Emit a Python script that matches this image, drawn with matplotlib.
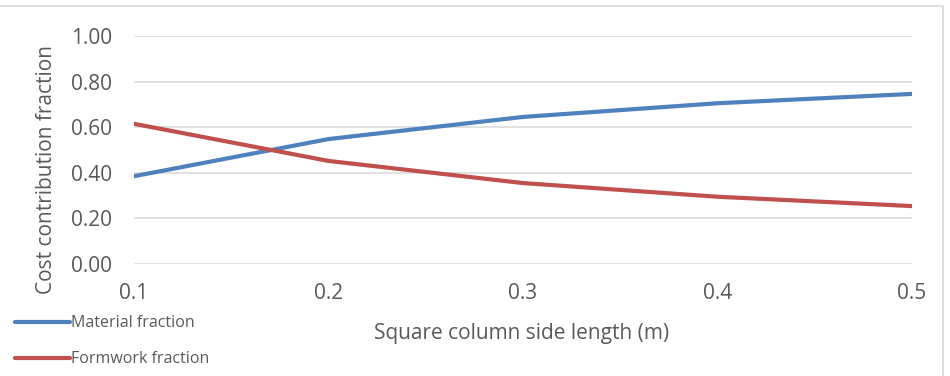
import matplotlib
matplotlib.use("Agg")
import matplotlib.pyplot as plt
from matplotlib.patches import Rectangle

plt.rcParams['font.family'] = ['Open Sans', 'DejaVu Sans']

side_length = [0.1, 0.2, 0.3, 0.4, 0.5]
material_fraction = [0.385, 0.548, 0.645, 0.705, 0.746]
formwork_fraction = [0.615, 0.452, 0.355, 0.295, 0.254]
yticks = [0.0, 0.2, 0.4, 0.6, 0.8, 1.0]
xticks = [0.1, 0.2, 0.3, 0.4, 0.5]

W, H = 950, 376
fig = plt.figure(figsize=(W/100, H/100), dpi=100)
ax = fig.add_axes([134/W, 1-264/H, (912-134)/W, (264-36)/H])

l1, = ax.plot(side_length, material_fraction, color='#4f81bd', lw=3.0,
              solid_capstyle='round', label='Material fraction', zorder=3)
l2, = ax.plot(side_length, formwork_fraction, color='#c0504d', lw=3.0,
              solid_capstyle='round', label='Formwork fraction', zorder=3)

ax.set_xlim(0.1, 0.5)
ax.set_ylim(0, 1.0)
ax.set_yticks(yticks)
ax.set_yticklabels([f"{v:.2f}" for v in yticks])
ax.set_xticks(xticks)
ax.set_xticklabels([f"{v:g}" for v in xticks])
ax.grid(axis='y', color='#d9d9d9', lw=1.1)
ax.set_axisbelow(True)
for s in ax.spines.values():
    s.set_visible(False)
ax.tick_params(axis='both', length=0, colors='#595959', labelsize=15)
ax.tick_params(axis='x', pad=14)
ax.tick_params(axis='y', pad=16)
ax.set_ylabel('Cost contribution fraction', fontsize=15, color='#595959')
ax.set_xlabel('Square column side length (m)', fontsize=15, color='#595959')
ax.xaxis.set_label_coords((522-134)/(912-134), -(333-264)/(264-36))
ax.xaxis.label.set_verticalalignment('center')
ax.yaxis.set_label_coords(-(134-47)/(912-134), (264-170)/(264-36))
ax.yaxis.label.set_verticalalignment('center')

fig.patches.append(Rectangle((-0.01, -0.05), 943/W + 0.01, 1 - 6/H + 0.05,
                             transform=fig.transFigure, fill=False,
                             edgecolor='#d9d9d9', lw=1.2))

fig.legend(handles=[l1, l2], loc='upper left', bbox_to_anchor=(9/W, 1-309/H),
           frameon=False, fontsize=11.5, handlelength=3.4, handletextpad=0.1,
           labelspacing=1.25, labelcolor='#595959', borderaxespad=0)

fig.savefig('out.png', dpi=100)
